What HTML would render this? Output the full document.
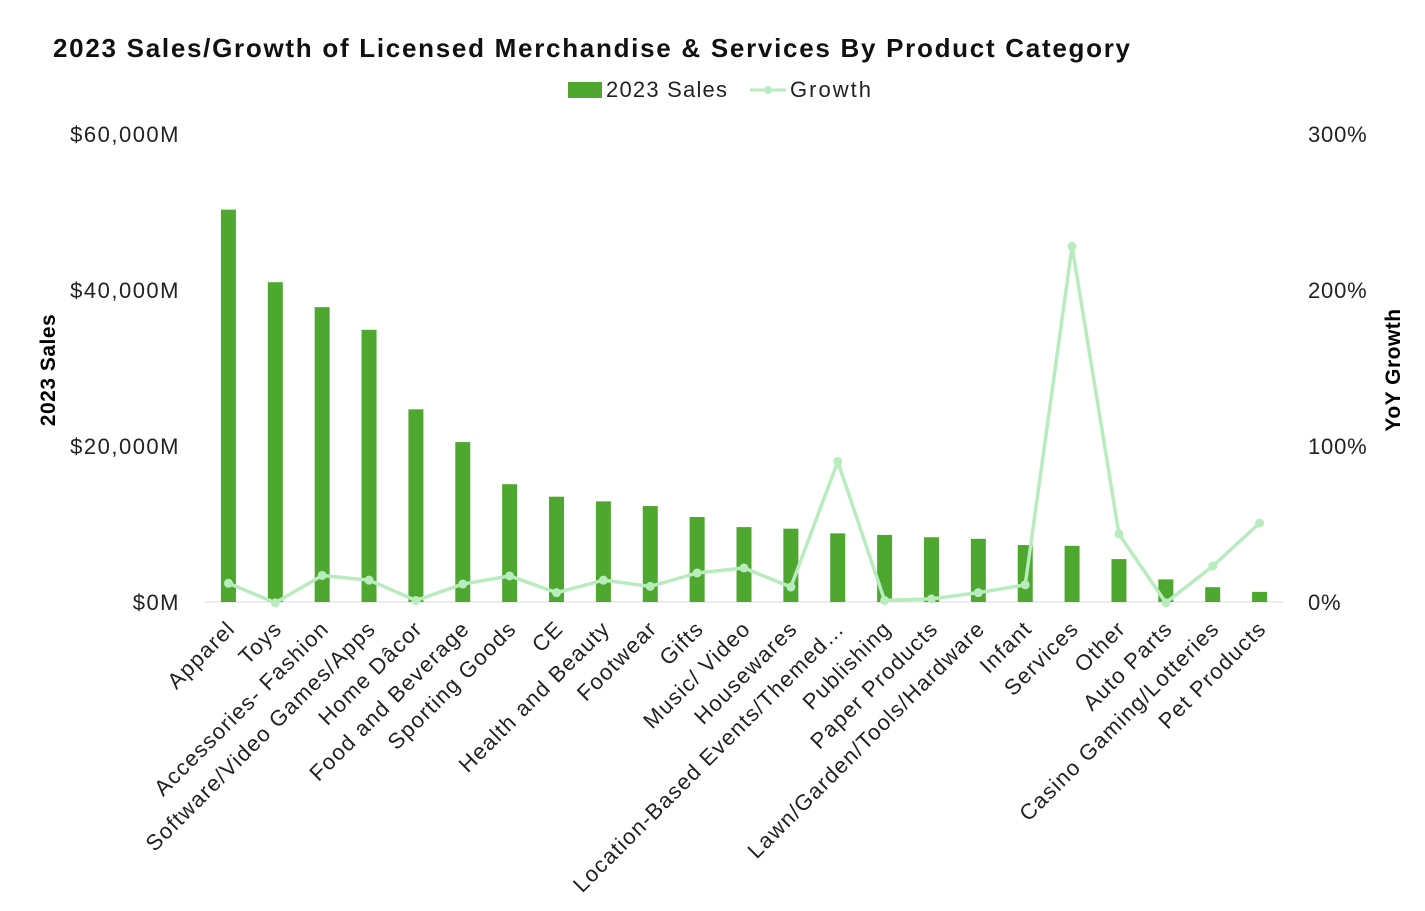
<!DOCTYPE html>
<html><head><meta charset="utf-8"><style>
body{margin:0;background:#fff;font-family:"Liberation Sans",sans-serif}
</style></head><body>
<svg id="c" width="1425" height="906" xmlns="http://www.w3.org/2000/svg" font-family="Liberation Sans, sans-serif">
<text x="53" y="57" font-size="26" font-weight="bold" fill="#111" textLength="1077" lengthAdjust="spacing">2023 Sales/Growth of Licensed Merchandise &amp; Services By Product Category</text>
<g>
<rect x="568" y="82" width="34" height="16" fill="#4ea72e"/>
<text x="606" y="97" font-size="22" fill="#222" textLength="121">2023 Sales</text>
<line x1="750" y1="90" x2="786" y2="90" stroke="#b8ecbe" stroke-width="3"/>
<circle cx="768" cy="90" r="4" fill="#b8ecbe"/>
<text x="790" y="97" font-size="22" fill="#222" textLength="81">Growth</text>
</g>
<text transform="translate(55,370) rotate(-90)" text-anchor="middle" font-size="21" font-weight="bold" letter-spacing="0.5">2023 Sales</text>
<text transform="translate(1400,370) rotate(-90)" text-anchor="middle" font-size="21" font-weight="bold" letter-spacing="0.5">YoY Growth</text>
<g id="g"></g>
</svg>
<script>
const categories=["Apparel","Toys","Accessories- Fashion","Software/Video Games/Apps","Home Dâcor","Food and Beverage","Sporting Goods","CE","Health and Beauty","Footwear","Gifts","Music/ Video","Housewares","Location-Based Events/Themed…","Publishing","Paper Products","Lawn/Garden/Tools/Hardware","Infant","Services","Other","Auto Parts","Casino Gaming/Lotteries","Pet Products"];
const sales=[50300,41000,37800,34900,24700,20500,15100,13500,12900,12300,10900,9600,9400,8800,8600,8300,8100,7300,7200,5500,2900,1900,1300];
const growth=[12,-0.5,17,14,1,11.5,16.7,6,14,10,18.6,21.8,9.6,90,1,2,6,11,228,43.6,-0.5,23,50.6];
const leftTicks=[0,20000,40000,60000];
const leftTickLabels=["$0M","$20,000M","$40,000M","$60,000M"];
const rightTicks=[0,100,200,300];
const rightTickLabels=["0%","100%","200%","300%"];
const g=document.getElementById('g');const NS="http://www.w3.org/2000/svg";
const x0=205,x1=1283,y0=602,yT=134;
const bw=(x1-x0)/categories.length;
const xc=i=>x0+bw*(i+0.5);
const yL=v=>y0-(v/60000)*(y0-yT);
const yR=v=>y0-(v/300)*(y0-yT);
function el(t,a){const e=document.createElementNS(NS,t);for(const k in a)e.setAttribute(k,a[k]);g.appendChild(e);return e;}
leftTicks.forEach((v,i)=>{const t=el('text',{x:180,y:yL(v)+8,'text-anchor':'end','font-size':22,fill:'#222','letter-spacing':1.5});t.textContent=leftTickLabels[i];

});
rightTicks.forEach((v,i)=>{const t=el('text',{x:1308,y:yR(v)+8,'font-size':22,fill:'#222','letter-spacing':0.8});t.textContent=rightTickLabels[i];

});
const ax=el('line',{x1:x0,y1:y0,x2:x1,y2:y0,stroke:'#d9d9d9','stroke-width':1});


sales.forEach((v,i)=>{const r=el('rect',{x:xc(i)-7.5,y:yL(v),width:15,height:y0-yL(v),fill:'#4ea72e'});

});
const pl=el('polyline',{points:growth.map((v,i)=>xc(i)+','+yR(v)).join(' '),fill:'none',stroke:'#b8ecbe','stroke-width':3.5,'stroke-linejoin':'round'});


growth.forEach((v,i)=>{const c=el('circle',{cx:xc(i),cy:yR(v),r:4.5,fill:'#b8ecbe'});

});
categories.forEach((c,i)=>{const x=xc(i)+8,y=630;const t=el('text',{x:x,y:y,'text-anchor':'end','font-size':22,fill:'#222','letter-spacing':1.3,transform:`rotate(-45 ${x} ${y})`});t.textContent=c;

});
</script>
</body></html>
